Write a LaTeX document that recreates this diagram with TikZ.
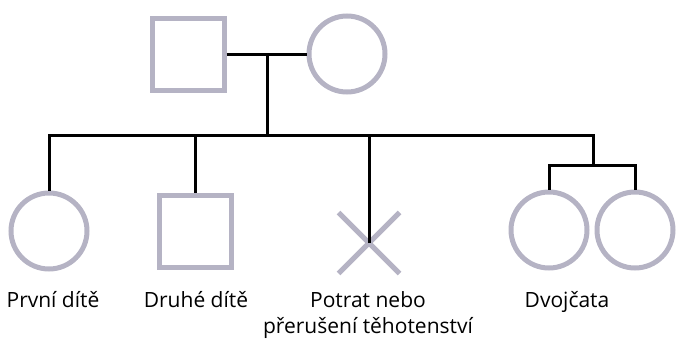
\documentclass[tikz,border=0pt]{standalone}
\usepackage{fontspec}
\setmainfont{Open Sans}
\usetikzlibrary{shapes.misc}
\definecolor{outline}{RGB}{181,179,196}

\begin{document}
\begin{tikzpicture}
[every node/.style={inner sep=0pt},
 male/.style={rectangle, minimum size=72pt, line width=5pt, draw=outline},
 female/.style={circle, minimum size=76pt, line width=5pt, draw=outline},
 lost/.style={cross out, minimum size=56pt, line width=5pt, draw=outline},
 label/.style={anchor=base, align=center, font=\fontsize{21}{26}\selectfont},
 link/.style={line width=3pt, color=black}]
\useasboundingbox (0pt, 0pt) rectangle (678pt, -340pt);
\node (father) [male] at (188.0pt, -54.0pt) {};
\node (mother) [female] at (347.0pt, -54.0pt) {};
\node (first) [female] at (49.0pt, -231.0pt) {};
\node (second) [male] at (195.0pt, -231.0pt) {};
\node (miscarriage) [lost] at (369.0pt, -243.0pt) {};
\node (twin1) [female] at (549.0pt, -230.0pt) {};
\node (twin2) [female] at (635.0pt, -230.0pt) {};
\node (firstlabel) [label] at (53.0pt, -307.0pt) {První dítě};
\node (secondlabel) [label] at (196.0pt, -307.0pt) {Druhé dítě};
\node (lostlabel) [label] at (368.0pt, -333.0pt) {Potrat nebo\\přerušení těhotenství};
\node (twinslabel) [label] at (567.0pt, -307.0pt) {Dvojčata};
\coordinate (couple) at (267.0pt, -54.0pt);
\coordinate (sibL) at (49.0pt, -135.0pt);
\coordinate (sibM) at (267.0pt, -135.0pt);
\coordinate (sibR) at (593.0pt, -135.0pt);
\coordinate (twins) at (593.0pt, -165.0pt);
\draw [link] (father) -- (mother);
\draw [link] (couple) -- (sibM);
\draw [link] (first) -- (sibL) -- (sibR) -- (twins);
\draw [link] (second.north) -- (second.north |- sibL);
\draw [link] (miscarriage.center) -- (miscarriage.center |- sibL);
\draw [link] (twin1.north) |- (twins) -| (twin2.north);
\end{tikzpicture}
\end{document}
